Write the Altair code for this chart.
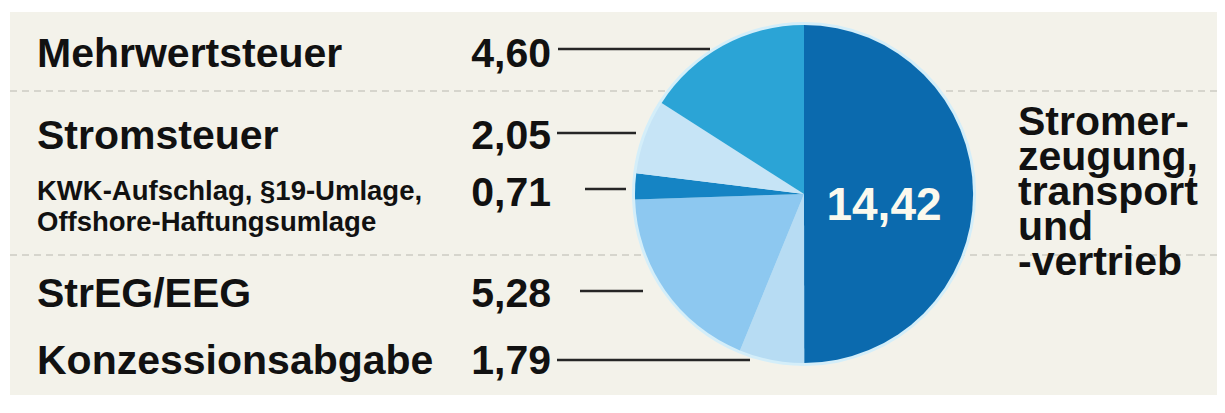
import altair as alt
import pandas as pd

# ---- data ----
categories = ["Stromerzeugung, -transport und -vertrieb", "Konzessionsabgabe", "StrEG/EEG",
              "KWK-Aufschlag, §19-Umlage, Offshore-Haftungsumlage", "Stromsteuer", "Mehrwertsteuer"]
values = [14.42, 1.79, 5.28, 0.71, 2.05, 4.60]
value_text = ["14,42", "1,79", "5,28", "0,71", "2,05", "4,60"]
slice_colors = ["#0b6aae", "#b7dcf3", "#8dc8f0", "#1584c4", "#c6e4f6", "#2ba4d6"]

left_big_labels = ["Mehrwertsteuer", "Stromsteuer", "StrEG/EEG", "Konzessionsabgabe"]
left_small_labels = ["KWK-Aufschlag, §19-Umlage,", "Offshore-Haftungsumlage"]
number_labels = ["4,60", "2,05", "0,71", "5,28", "1,79"]
right_label_lines = ["Stromer-", "zeugung,", "transport", "und", "-vertrieb"]

# ---- layout (reference pixel coordinates) ----
big_label_y = [67, 149, 307, 374]
small_label_y = [200, 231]
number_y = [67, 149, 206, 307, 374]
leader_x1 = [558, 557, 585, 580, 557]
leader_x2 = [710, 636, 626, 643, 750]
leader_y = [49, 133, 189, 291, 360]
sep_y = [91, 255]
right_y = 135
right_line_height = 35

W, H = 1209, 397
xs = alt.Scale(domain=[8, 8 + W], range=[0, W], nice=False, zero=False)
ys = alt.Scale(domain=[8, 8 + H], range=[0, H], nice=False, zero=False)

def X(f):
    return alt.X(f, type="quantitative", scale=xs, axis=None)

def Y(f):
    return alt.Y(f, type="quantitative", scale=ys, axis=None)

FONT = "Liberation Sans"

bg = alt.Chart(pd.DataFrame({"x1": [10], "x2": [1225], "y1": [12], "y2": [395]})).mark_rect(
    color="#f3f2ea").encode(x=X("x1"), x2="x2", y=Y("y1"), y2="y2")

seps = alt.Chart(pd.DataFrame({"y": sep_y, "x1": [10, 10], "x2": [1225, 1225]})).mark_rule(
    color="#cdccc3", strokeWidth=1.5, strokeDash=[7, 5]).encode(x=X("x1"), x2="x2", y=Y("y"))

pie_df = pd.DataFrame({"cat": categories, "value": values, "ord": list(range(len(values))),
                       "label": value_text})

CX, CY = 804 - 8, 194 - 8

halo = alt.Chart(pie_df).mark_arc(outerRadius=172, color="#d4eef9").encode(
    theta=alt.Theta("value:Q", stack=True), order=alt.Order("ord:Q"),
    x=alt.value(CX), y=alt.value(CY))

pie = alt.Chart(pie_df).mark_arc(outerRadius=169).encode(
    theta=alt.Theta("value:Q", stack=True),
    color=alt.Color("cat:N", scale=alt.Scale(domain=categories, range=slice_colors), legend=None),
    order=alt.Order("ord:Q"),
    x=alt.value(CX), y=alt.value(CY))

center_lbl = alt.Chart(pd.DataFrame({"t": [value_text[0]], "x": [884], "y": [206]})).mark_text(
    font=FONT, fontWeight="bold", fontSize=46, color="#fbf9ee", align="center", baseline="middle"
).encode(x=X("x"), y=Y("y"), text="t:N")

leaders = alt.Chart(pd.DataFrame({"x1": leader_x1, "x2": leader_x2, "y": leader_y})).mark_rule(
    color="#262626", strokeWidth=2.5).encode(x=X("x1"), x2="x2", y=Y("y"))

big_lbl = alt.Chart(pd.DataFrame({"t": left_big_labels, "x": [37] * 4, "y": big_label_y})).mark_text(
    font=FONT, fontWeight="bold", fontSize=41, color="#111111", align="left", baseline="alphabetic"
).encode(x=X("x"), y=Y("y"), text="t:N")

small_lbl = alt.Chart(pd.DataFrame({"t": ["\n".join(left_small_labels)], "x": [37], "y": [small_label_y[0]]})).mark_text(
    font=FONT, fontWeight="bold", fontSize=27.5, color="#111111", align="left", baseline="alphabetic",
    lineBreak="\n", lineHeight=small_label_y[1] - small_label_y[0]
).encode(x=X("x"), y=Y("y"), text="t:N")

nums = alt.Chart(pd.DataFrame({"t": number_labels, "x": [551] * 5, "y": number_y})).mark_text(
    font=FONT, fontWeight="bold", fontSize=41, color="#111111", align="right", baseline="alphabetic"
).encode(x=X("x"), y=Y("y"), text="t:N")

right_lbl = alt.Chart(pd.DataFrame({"t": ["\n".join(right_label_lines)], "x": [1018], "y": [right_y]})).mark_text(
    font=FONT, fontWeight="bold", fontSize=41, color="#111111", align="left", baseline="alphabetic",
    lineBreak="\n", lineHeight=right_line_height
).encode(x=X("x"), y=Y("y"), text="t:N")

chart = alt.layer(bg, seps, halo, pie, center_lbl, leaders, big_lbl, small_lbl, nums, right_lbl).properties(
    width=W, height=H, padding=0, background="#ffffff",
    autosize=alt.AutoSizeParams(type="none")
).configure_view(stroke=None)

chart.save("out.html", embed_options={"renderer": "svg", "actions": False})
